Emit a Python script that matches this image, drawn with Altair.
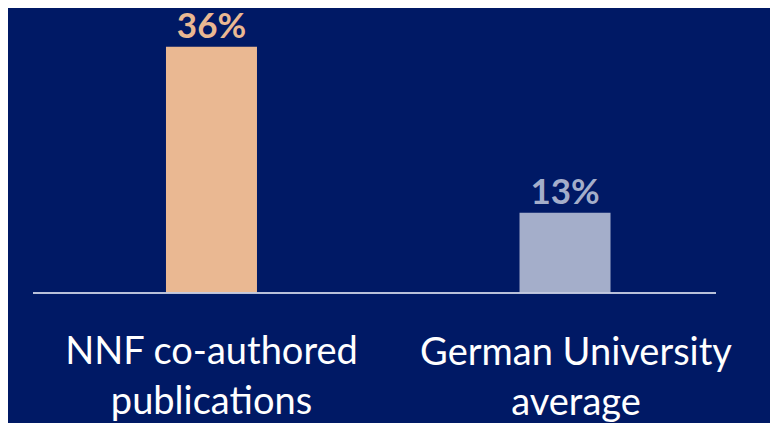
import altair as alt
import pandas as pd

categories = ["NNF co-authored\npublications", "German University\naverage"]
values = [36, 13]
value_labels = ["36%", "13%"]
bar_colors = ["#EAB892", "#A4AECA"]

df = pd.DataFrame({
    "cat": categories,
    "value": values,
    "label": value_labels,
    "color": bar_colors,
})

AXIS_FLOOR = 1.9
BG = "#001965"
FONT = "Lato"

x = alt.X("cat:N", sort=categories, axis=None,
          scale=alt.Scale(range=[69.6, 690.9], paddingInner=0.7426, paddingOuter=0.25))
y_scale = alt.Scale(domain=[AXIS_FLOOR, 41.36], range=[285, 0], zero=False,
                    nice=False, clamp=True)

base = alt.Chart(df)

bars = base.mark_bar().encode(
    x=x,
    y=alt.Y("value:Q", scale=y_scale, axis=None),
    y2=alt.datum(AXIS_FLOOR),
    color=alt.Color("color:N", scale=None),
)

value_text = base.mark_text(font=FONT, fontWeight="bold", fontSize=35,
                            baseline="alphabetic", dy=-9).encode(
    x=x,
    y=alt.Y("value:Q", scale=y_scale, axis=None),
    text="label:N",
    color=alt.Color("color:N", scale=None),
)

baseline = base.mark_rule(color="#C5CBE0", strokeWidth=1.5).encode(
    y=alt.datum(AXIS_FLOOR),
    x=alt.value(25),
    x2=alt.value(708),
)

cat_text1 = base.transform_filter(alt.datum.cat == categories[0]).mark_text(
    font=FONT, fontSize=38, color="white", lineBreak="\n", lineHeight=50,
    baseline="alphabetic").encode(x=x, y=alt.value(356), text="cat:N")

cat_text2 = base.transform_filter(alt.datum.cat == categories[1]).mark_text(
    font=FONT, fontSize=38, color="white", lineBreak="\n", lineHeight=50,
    baseline="alphabetic", dx=11).encode(x=x, y=alt.value(357), text="cat:N")

chart = alt.layer(bars, value_text, baseline, cat_text1, cat_text2).properties(
    width=762, height=415, background=BG, padding=0,
    autosize=alt.AutoSizeParams(type="none"),
).configure_view(stroke=None)

chart.save("out.html", embed_options={"renderer": "svg", "actions": False})
